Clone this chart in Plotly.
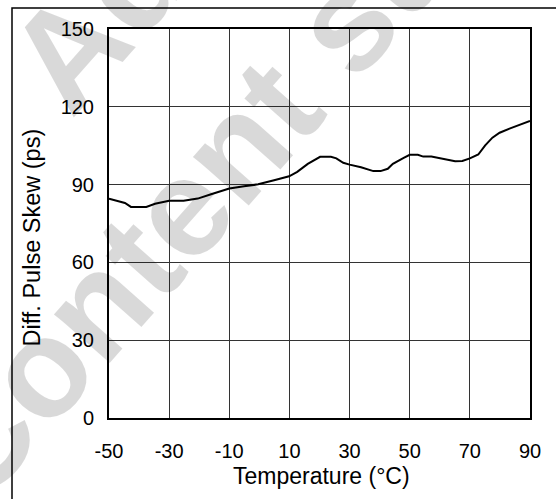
import plotly.graph_objects as go

temperature_c = [-50, -44.7, -42.7, -37.6, -34.7, -30, -25.2, -20.5, -15.8, -10, -5.1, -0.4,
                 4.9, 9.9, 12.6, 16.1, 20.2, 23.8, 25.6, 27.9, 30, 33.8, 37.9, 40.3, 42.7,
                 44.4, 48, 50, 52.7, 54.5, 57.2, 61, 65.1, 67.5, 70, 72.8, 75.1, 77.5, 79.9,
                 83.4, 87, 90]
skew_ps = [84.6, 82.9, 81.4, 81.4, 82.6, 83.8, 83.8, 84.6, 86.4, 88.5, 89.4, 90.1,
           91.7, 93.2, 94.9, 98.0, 100.7, 100.7, 100.1, 98.4, 97.7, 96.7, 95.2, 95.2, 96.1,
           98.0, 100.3, 101.5, 101.5, 100.8, 100.8, 99.8, 99.0, 99.1, 100.1, 101.6, 105.1,
           108.1, 110.0, 111.7, 113.2, 114.5]

x_ticks = [-50, -30, -10, 10, 30, 50, 70, 90]
y_ticks = [0, 30, 60, 90, 120, 150]

FONT = "Liberation Sans, Arial, Helvetica, sans-serif"

fig = go.Figure()
fig.add_trace(go.Scatter(x=temperature_c, y=skew_ps, mode="lines",
                         line=dict(color="black", width=2), showlegend=False,
                         hoverinfo="skip"))

fig.update_layout(
    width=556, height=499,
    margin=dict(l=109, r=26, t=29, b=81),
    paper_bgcolor="white", plot_bgcolor="white",
    font=dict(family=FONT, color="black"),
)
fig.update_xaxes(range=[-50, 90], tickvals=x_ticks, ticktext=[str(v) for v in x_ticks],
                 showgrid=True, gridcolor="#333333", gridwidth=1,
                 showline=True, linecolor="black", linewidth=2, mirror=True,
                 zeroline=False, ticks="", tickfont=dict(size=20, family=FONT),
                 ticklabelstandoff=14)
fig.update_yaxes(range=[0, 150], tickvals=y_ticks, ticktext=[str(v) for v in y_ticks],
                 showgrid=True, gridcolor="#333333", gridwidth=1,
                 showline=True, linecolor="black", linewidth=2, mirror=True,
                 zeroline=False, ticks="", tickfont=dict(size=20, family=FONT),
                 ticklabelstandoff=9)

# axis titles
fig.add_annotation(text="Temperature (°C)", xref="paper", yref="paper",
                   x=0.5036, y=-0.149, xanchor="center", yanchor="middle",
                   showarrow=False, font=dict(size=23, family=FONT, color="black"))
fig.add_annotation(text="Diff. Pulse Skew (ps)", xref="paper", yref="paper",
                   x=-0.183, y=0.464, xanchor="center", yanchor="middle", textangle=-90,
                   showarrow=False, font=dict(size=23.5, family=FONT, color="black"))

# watermark
wm_font = dict(size=140, family=FONT, color="rgba(0,0,0,0.15)", weight="bold")
fig.add_annotation(text="Advance Information", xref="paper", yref="paper",
                   x=0.918, y=2.192, xanchor="center", yanchor="middle", textangle=-48.6,
                   showarrow=False, font=wm_font)
fig.add_annotation(text="Content subject to change", xref="paper", yref="paper",
                   x=0.989, y=1.540, xanchor="center", yanchor="middle", textangle=-48.6,
                   showarrow=False, font=wm_font)

# outer frame
fig.add_shape(type="rect", xref="paper", yref="paper",
              x0=(12 - 109) / 421, x1=2, y0=-1, y1=(418 - 8) / 389,
              line=dict(color="black", width=1.5), fillcolor="rgba(0,0,0,0)")

fig.write_html("out.html", config={"displayModeBar": False},
               post_script="document.body.style.margin='0';document.body.style.overflow='hidden';")
